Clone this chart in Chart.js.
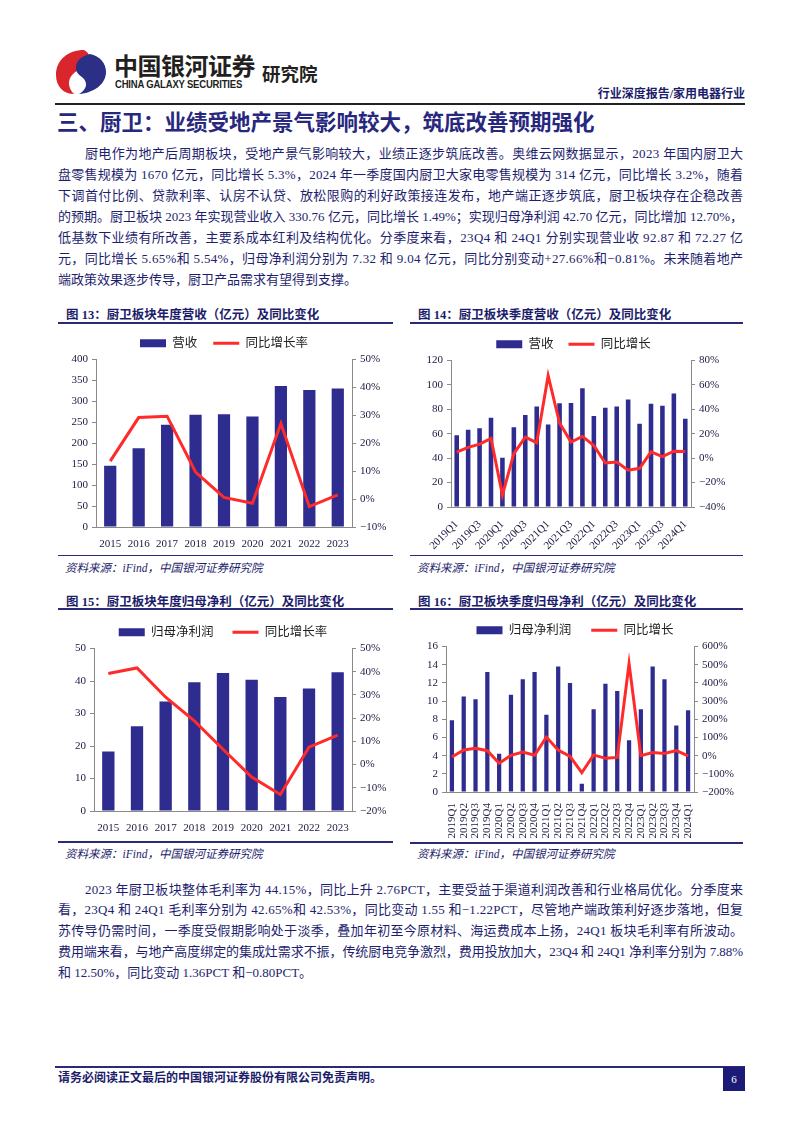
<!DOCTYPE html>
<html>
<head>
<meta charset="utf-8">
<script src="https://cdn.jsdelivr.net/npm/chart.js@4.4.1/dist/chart.umd.min.js"></script>
<style>
body{margin:0;background:#fff;width:802px;height:1133px;position:relative;overflow:hidden;font-family:"Liberation Serif","Noto Sans CJK SC",serif;color:#1e1e6e}
.abs{position:absolute}
.ln{position:absolute;white-space:nowrap;font-size:13px;line-height:16px}
.ctitle{position:absolute;font-size:12.5px;font-weight:bold;color:#1c1c6a;white-space:nowrap}
.uline{position:absolute;height:2px;background:#2a2a7a}
.sline{position:absolute;height:1.5px;background:#2a2a7a}
.src{position:absolute;font-size:11.5px;font-style:italic;color:#1c1c6a;white-space:nowrap}
canvas{position:absolute}
</style>
</head>
<body>
<svg class="abs" style="left:54px;top:48px" width="54" height="48" viewBox="0 0 54 48">
  <path d="M30 2 C14 2 2 12 2 27 C2 39 10 46 20 46 C14 40 13 32 19 26 C24 21 30 20 33 15 C36 10 36 5 30 2 Z" fill="#d9262c"/>
  <path d="M36 6 C46 8 52 15 52 24 C52 36 40 45 25 46 C32 42 34 36 30 31 C26 27 21 25 22 18 C23 12 28 8 36 6 Z" fill="#2b2f86"/>
</svg>
<div class="abs" style="left:114px;top:50px;font-family:'Noto Sans CJK SC';font-weight:bold;font-size:24px;color:#231f20;letter-spacing:-0.5px;line-height:30px">中国银河证券</div>
<div class="abs" style="left:115px;top:79px;font-family:'Liberation Sans';font-weight:bold;font-size:10px;color:#231f20;letter-spacing:-0.2px;line-height:12px;transform:scaleX(0.95);transform-origin:left">CHINA GALAXY SECURITIES</div>
<div class="abs" style="left:262px;top:61px;font-family:'Noto Sans CJK SC';font-weight:bold;font-size:18.5px;color:#231f20;line-height:24px">研究院</div>
<div class="abs" style="right:57px;top:86px;font-weight:bold;font-size:12px;color:#1c1c6a;line-height:16px">行业深度报告/家用电器行业</div>
<div class="abs" style="left:55px;top:103px;width:690px;height:1.5px;background:#222"></div>
<div class="abs" style="left:57px;top:107px;font-weight:bold;font-size:21.5px;color:#27277e;line-height:28px;font-family:'Noto Sans CJK SC'">三、厨卫：业绩受地产景气影响较大，筑底改善预期强化</div>

<div class="ctitle" style="left:66px;top:304px">图 13：厨卫板块年度营收（亿元）及同比变化</div>
<div class="uline" style="left:58px;top:321.5px;width:335px"></div>
<canvas id="c13" width="336" height="230" style="left:56px;top:321px"></canvas>
<div class="sline" style="left:58px;top:554.5px;width:335px"></div>
<div class="src" style="left:65px;top:559px">资料来源：iFind，中国银河证券研究院</div>

<div class="ctitle" style="left:418px;top:304px">图 14：厨卫板块季度营收（亿元）及同比变化</div>
<div class="uline" style="left:410px;top:321.5px;width:333px"></div>
<canvas id="c14" width="325" height="229" style="left:411px;top:323px"></canvas>
<div class="sline" style="left:410px;top:554.5px;width:333px"></div>
<div class="src" style="left:417px;top:559px">资料来源：iFind，中国银河证券研究院</div>

<div class="ctitle" style="left:66px;top:591px">图 15：厨卫板块年度归母净利（亿元）及同比变化</div>
<div class="uline" style="left:58px;top:608px;width:335px"></div>
<canvas id="c15" width="338" height="228" style="left:54px;top:607px"></canvas>
<div class="sline" style="left:58px;top:841px;width:335px"></div>
<div class="src" style="left:65px;top:845px">资料来源：iFind，中国银河证券研究院</div>

<div class="ctitle" style="left:418px;top:591px">图 16：厨卫板块季度归母净利（亿元）及同比变化</div>
<div class="uline" style="left:410px;top:608px;width:333px"></div>
<canvas id="c16" width="338" height="234" style="left:406px;top:604px"></canvas>
<div class="sline" style="left:410px;top:842px;width:333px"></div>
<div class="src" style="left:417px;top:845px">资料来源：iFind，中国银河证券研究院</div>

<div class="abs" style="left:55px;top:1066px;width:690px;height:2px;background:#2a2a7a"></div>
<div class="abs" style="left:58px;top:1071px;font-size:12px;font-weight:bold;color:#1c1c6a;line-height:14px">请务必阅读正文最后的中国银河证券股份有限公司免责声明。</div>
<div class="abs" style="left:723px;top:1067px;width:22px;height:24px;background:#1c1c78;color:#fff;font-size:11px;text-align:center;line-height:24px">6</div>

<script>
// 年度数据
const years = ['2015', '2016', '2017', '2018', '2019', '2020', '2021', '2022', '2023'];
const annualRevenue = [146, 188, 244, 268, 269, 264, 337, 327, 331];
const annualRevenueYoy = [13.6, 29.2, 29.7, 9.7, 0.6, -1.5, 27.1, -2.7, 1.5];
const annualProfit = [18.3, 26.1, 33.7, 39.6, 42.5, 40.4, 35.1, 37.7, 42.7];
const annualProfitYoy = [39.2, 41.6, 29.0, 18.8, 6.6, -5.4, -12.9, 7.5, 12.7];

// 季度数据
const quarters = ['2019Q1', '2019Q2', '2019Q3', '2019Q4', '2020Q1', '2020Q2', '2020Q3', '2020Q4',
    '2021Q1', '2021Q2', '2021Q3', '2021Q4', '2022Q1', '2022Q2', '2022Q3', '2022Q4',
    '2023Q1', '2023Q2', '2023Q3', '2023Q4', '2024Q1'];
const quarterRevenue = [58.7, 63.3, 64.5, 73.1, 40.3, 65.3, 75.4, 82.3, 67.6, 84.9, 85.2, 97.3,
    74.5, 81.2, 82.3, 88.1, 68.2, 84.6, 82.9, 92.9, 72.3];
const quarterRevenueYoy = [4.9, 8.9, 11.5, 16.1, -30.2, 3.7, 17.3, 12.7, 67.6, 28.8, 13.2, 17.8,
    10.4, -4.0, -3.2, -9.8, -8.3, 5.2, 1.2, 5.7, 5.5];
const quarterProfit = [7.9, 10.5, 10.2, 13.2, 4.2, 10.7, 12.4, 13.2, 8.5, 13.8, 12.0, 0.9,
    9.1, 11.9, 11.1, 5.7, 9.1, 13.8, 12.4, 7.3, 9.0];
const quarterProfitYoy = [-8, 31, 40, 27, -42, 2, 19, 2, 102, 31, -4, -94,
    4, -15, -10, 506, 0, 17, 12, 27.7, -0.8];

const para1 = [
    '厨电作为地产后周期板块，受地产景气影响较大，业绩正逐步筑底改善。奥维云网数据显示，2023 年国内厨卫大',
    '盘零售规模为 1670 亿元，同比增长 5.3%，2024 年一季度国内厨卫大家电零售规模为 314 亿元，同比增长 3.2%，随着',
    '下调首付比例、贷款利率、认房不认贷、放松限购的利好政策接连发布，地产端正逐步筑底，厨卫板块存在企稳改善',
    '的预期。厨卫板块 2023 年实现营业收入 330.76 亿元，同比增长 1.49%；实现归母净利润 42.70 亿元，同比增加 12.70%，',
    '低基数下业绩有所改善，主要系成本红利及结构优化。分季度来看，23Q4 和 24Q1 分别实现营业收 92.87 和 72.27 亿',
    '元，同比增长 5.65%和 5.54%，归母净利润分别为 7.32 和 9.04 亿元，同比分别变动+27.66%和−0.81%。未来随着地产',
    '端政策效果逐步传导，厨卫产品需求有望得到支撑。'
];
const para2 = [
    '2023 年厨卫板块整体毛利率为 44.15%，同比上升 2.76PCT，主要受益于渠道利润改善和行业格局优化。分季度来',
    '看，23Q4 和 24Q1 毛利率分别为 42.65%和 42.53%，同比变动 1.55 和−1.22PCT，尽管地产端政策利好逐步落地，但复',
    '苏传导仍需时间，一季度受假期影响处于淡季，叠加年初至今原材料、海运费成本上扬，24Q1 板块毛利率有所波动。',
    '费用端来看，与地产高度绑定的集成灶需求不振，传统厨电竞争激烈，费用投放加大，23Q4 和 24Q1 净利率分别为 7.88%',
    '和 12.50%，同比变动 1.36PCT 和−0.80PCT。'
];

function writeLines(lines, top, step) {
    let left = 58, right = 743;
    lines.forEach(function (t, i) {
        let el = document.createElement('span');
        el.className = 'ln';
        el.textContent = t;
        let x = i === 0 ? left + 27 : left;
        el.style.left = x + 'px';
        el.style.top = (top + i * step - 8) + 'px';
        document.body.appendChild(el);
        if (i < lines.length - 1) {
            let w = el.getBoundingClientRect().width;
            el.style.letterSpacing = ((right - x - w) / (t.length - 1)) + 'px';
        }
    });
}
writeLines(para1, 153.5, 21);
writeLines(para2, 889.5, 20.8);

const navy = '#2f2c8f';
const red = '#ff2a2a';
const tickFont = { family: '"Liberation Serif", serif', size: 11 };

function pct(v) {
    return (v < 0 ? '−' + Math.abs(v) : v) + '%';
}

function makeChart(id, labels, bars, line, barName, lineName, yMax, yStep, rMin, rMax, rStep, barPct, xTicks, xHeight, rWidth, legendPad) {
    let axisLine = { display: true, color: '#8a8a8a', width: 1 };
    let yGrid = { display: true, drawOnChartArea: false, drawTicks: true, tickLength: 4, color: '#8a8a8a' };
    return new Chart(document.getElementById(id), {
        type: 'bar',
        data: {
            labels: labels,
            datasets: [
                { type: 'line', label: lineName, data: line, yAxisID: 'y1', borderColor: red, backgroundColor: red,
                  borderWidth: 3, pointRadius: 0, tension: 0, pointStyle: 'line', order: 0 },
                { type: 'bar', label: barName, data: bars, yAxisID: 'y', backgroundColor: navy,
                  barPercentage: barPct, categoryPercentage: 1, pointStyle: 'rect', order: 1 }
            ]
        },
        options: {
            responsive: false,
            animation: false,
            plugins: {
                tooltip: { enabled: false },
                legend: {
                    reverse: true,
                    labels: { usePointStyle: true, pointStyleWidth: 26, boxHeight: 8, padding: legendPad,
                              color: '#222', font: { family: '"Liberation Serif", "Noto Sans CJK SC"', size: 12.5 } }
                }
            },
            scales: {
                x: {
                    grid: { display: false },
                    border: axisLine,
                    ticks: Object.assign({ color: '#1a1a40', font: tickFont, padding: 3 }, xTicks),
                    afterFit: function (s) { s.height = xHeight; }
                },
                y: {
                    position: 'left', min: 0, max: yMax,
                    grid: yGrid, border: axisLine,
                    ticks: { stepSize: yStep, color: '#1a1a40', font: tickFont, padding: 4 },
                    afterFit: function (s) { s.width = 40; }
                },
                y1: {
                    position: 'right', min: rMin, max: rMax,
                    grid: yGrid, border: axisLine,
                    ticks: { stepSize: rStep, color: '#1a1a40', font: tickFont, padding: 4, callback: pct },
                    afterFit: function (s) { s.width = rWidth; }
                }
            }
        }
    });
}

makeChart('c13', years, annualRevenue, annualRevenueYoy, '营收', '同比增长率',
    400, 50, -10, 50, 10, 0.43, { maxRotation: 0, autoSkip: false }, 24, 40, 16);
makeChart('c14', quarters, quarterRevenue, quarterRevenueYoy, '营收', '同比增长',
    120, 20, -40, 80, 20, 0.4,
    { minRotation: 45, maxRotation: 45, autoSkip: false, callback: function (v, i) { return i % 2 === 0 ? quarters[i] : ''; } },
    45, 45, 15);
makeChart('c15', years, annualProfit, annualProfitYoy, '归母净利润', '同比增长率',
    50, 10, -20, 50, 10, 0.43, { maxRotation: 0, autoSkip: false }, 24, 40, 19);
makeChart('c16', quarters, quarterProfit, quarterProfitYoy, '归母净利润', '同比增长',
    16, 2, -200, 600, 100, 0.36,
    { minRotation: 90, maxRotation: 90, autoSkip: false }, 46, 50, 20);
</script>
</body>
</html>
